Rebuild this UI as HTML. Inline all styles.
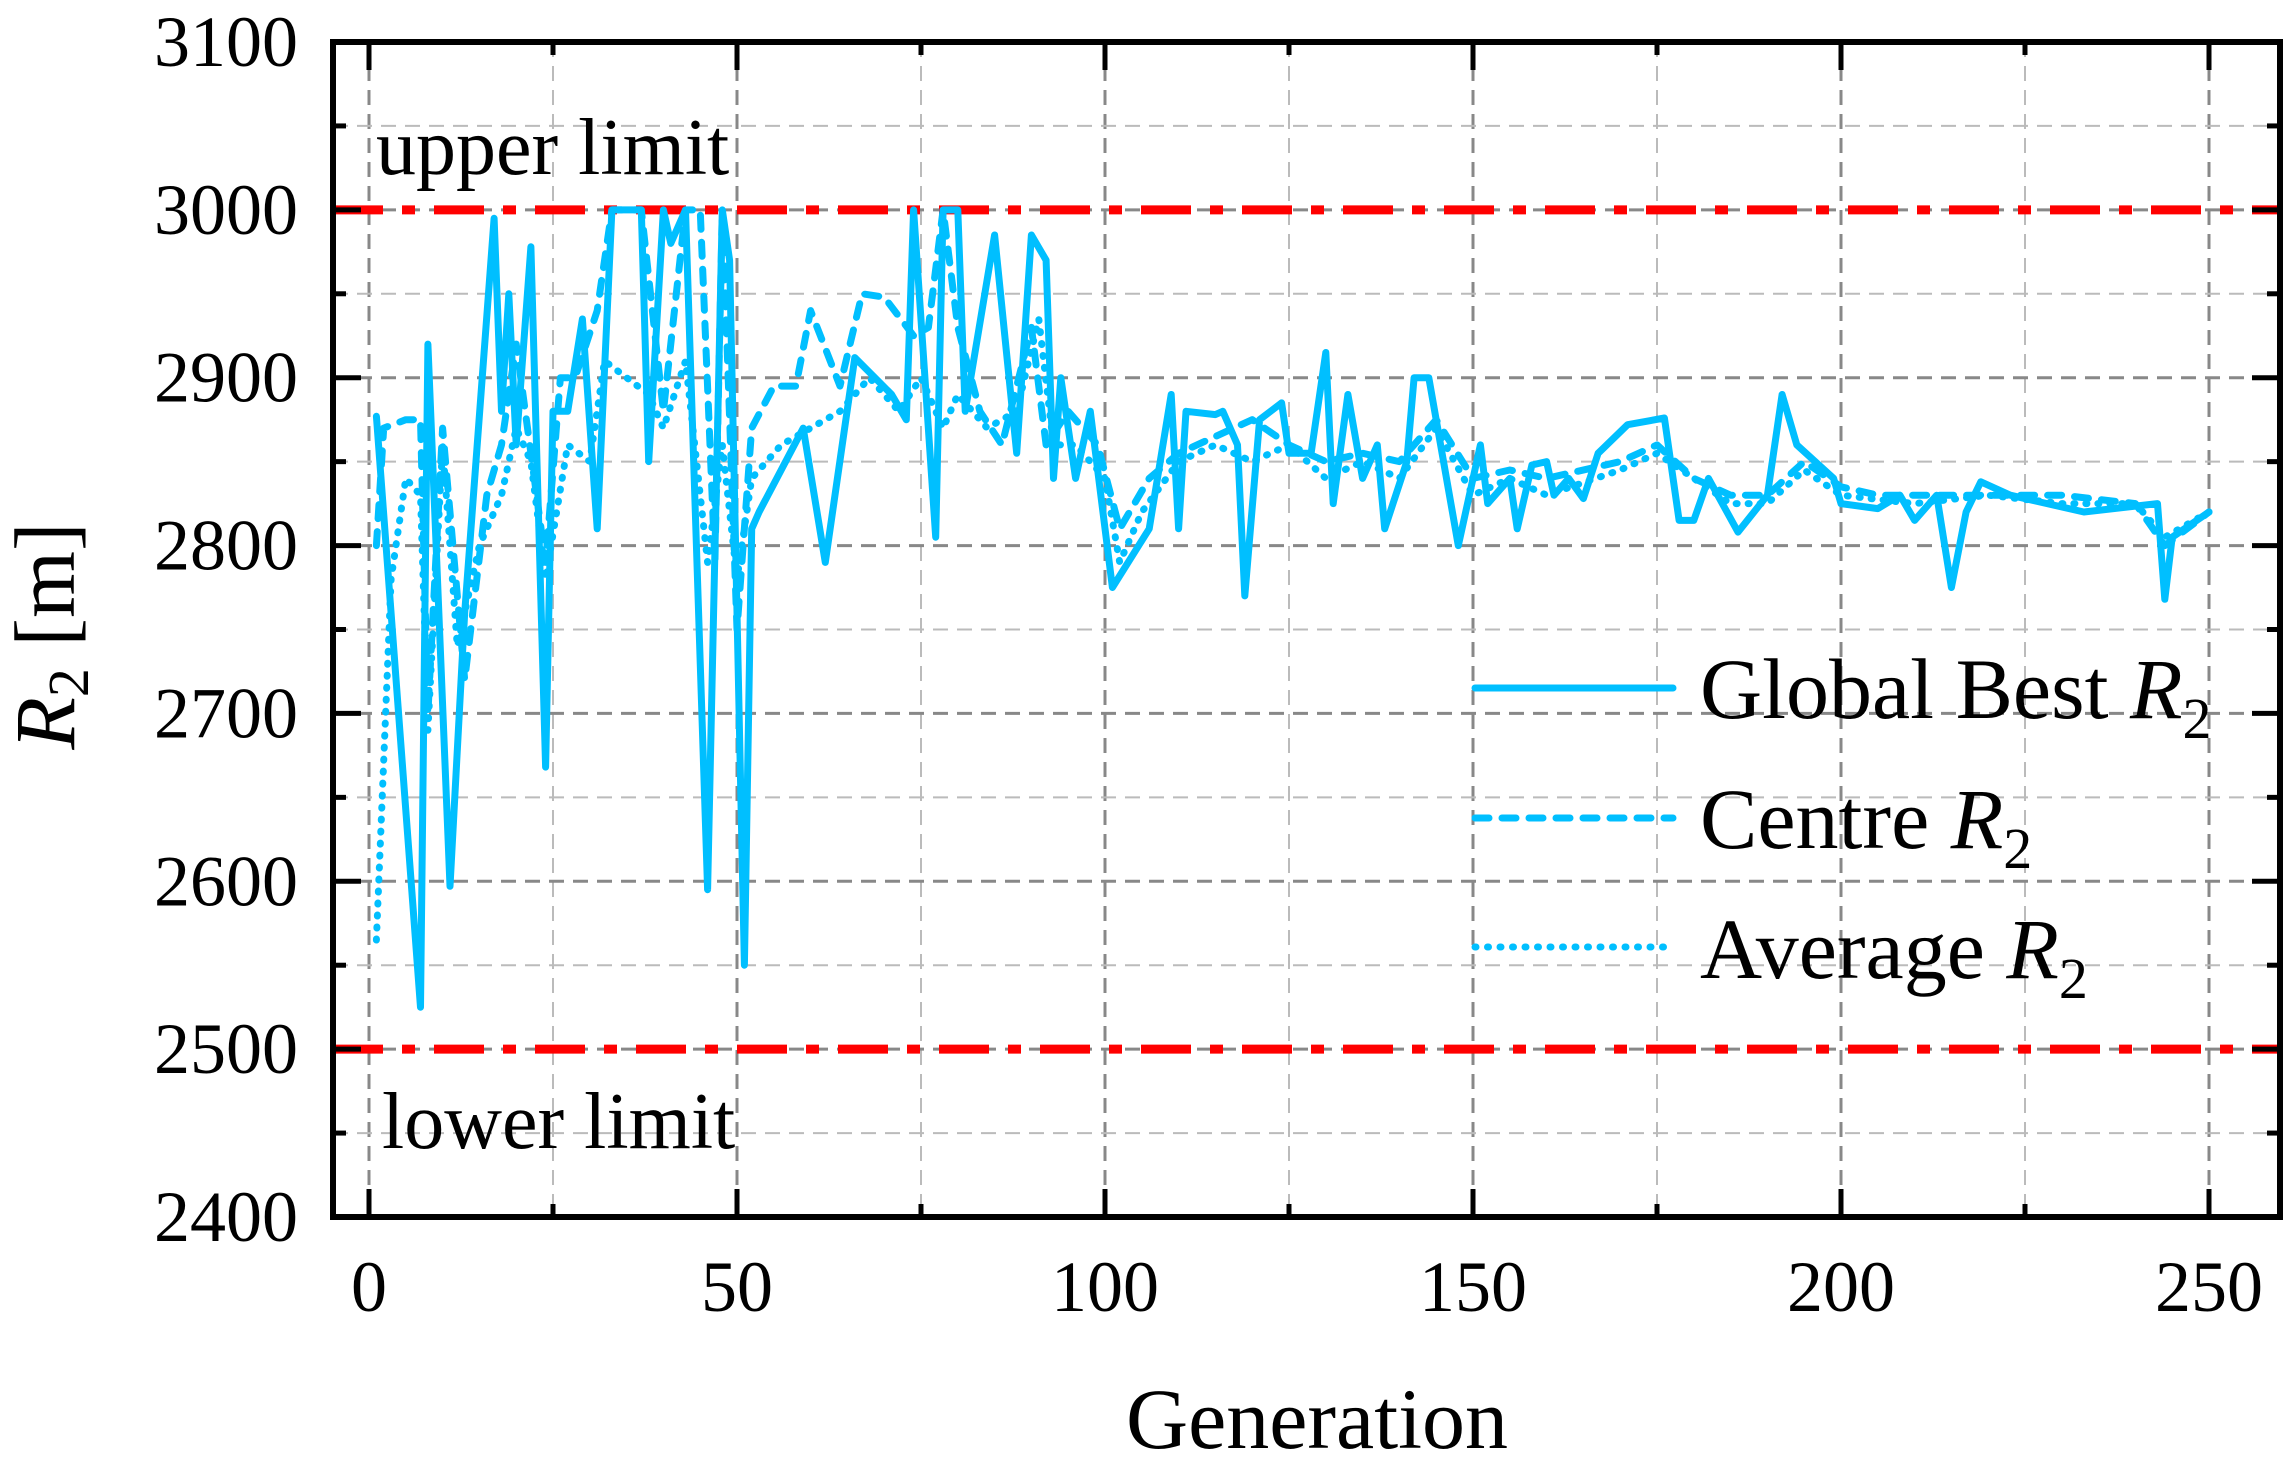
<!DOCTYPE html>
<html><head><meta charset="utf-8"><style>
html,body{margin:0;padding:0;background:#fff;}
svg{display:block;font-family:"Liberation Serif",serif;}
</style></head><body>
<svg id="chart" width="2288" height="1463" viewBox="0 0 2288 1463" xmlns="http://www.w3.org/2000/svg">
<g id="grid"></g>
<g id="limits"></g>
<g id="series"></g>
<g id="axes"></g>
<text x="376" y="174" font-size="80">upper limit</text>
<text x="382" y="1148" font-size="80">lower limit</text>
<text x="1317" y="1448" font-size="86" text-anchor="middle">Generation</text>
<text transform="translate(74,636) rotate(-90)" font-size="86" text-anchor="middle"><tspan font-style="italic">R</tspan><tspan font-size="58" dy="14">2</tspan><tspan dy="-14"> [m]</tspan></text>
<g>
<line x1="1475" y1="688" x2="1673" y2="688" stroke="#00BFFF" stroke-width="7" stroke-linecap="round"/>
<line x1="1475" y1="818" x2="1673" y2="818" stroke="#00BFFF" stroke-width="7" stroke-dasharray="14 13" stroke-linecap="round"/>
<line x1="1475" y1="947" x2="1673" y2="947" stroke="#00BFFF" stroke-width="7" stroke-dasharray="1 11.5" stroke-linecap="round"/>
<text x="1700" y="718" font-size="86">Global Best <tspan font-style="italic">R</tspan><tspan font-size="58" dy="20">2</tspan></text>
<text x="1700" y="848" font-size="86">Centre <tspan font-style="italic">R</tspan><tspan font-size="58" dy="20">2</tspan></text>
<text x="1700" y="978" font-size="86">Average <tspan font-style="italic">R</tspan><tspan font-size="58" dy="20">2</tspan></text>
</g>
</svg>
<script>
const xTicks=[0,50,100,150,200,250];
const yTicks=[2400,2500,2600,2700,2800,2900,3000,3100];
const limits=[3000,2500];
const bestGen=[1,7,8,11,13,17,18,19,20,22,24,25,27,29,31,33,37,38,40,41,43,46,48,49,51,52,53,59,62,66,71,73,74,77,78,80,81,85,88,90,92,93,94,96,98,101,106,109,110,111,115,116,118,119,121,124,125,128,130,131,133,135,137,138,141,142,144,148,151,152,155,156,158,160,161,163,165,167,171,176,178,180,182,186,190,192,194,199,200,205,208,210,213,215,217,219,223,228,233,243,244,245,250];
const bestVal=[2877,2525,2920,2597,2760,2995,2880,2950,2860,2978,2668,2880,2880,2935,2810,3000,3000,2850,3000,2980,3000,2595,3000,2970,2550,2810,2820,2870,2790,2912,2890,2875,3000,2805,3000,3000,2880,2985,2855,2985,2970,2840,2900,2840,2880,2775,2810,2890,2810,2880,2878,2880,2860,2770,2875,2885,2855,2855,2915,2825,2890,2840,2860,2810,2850,2900,2900,2800,2860,2825,2840,2810,2848,2850,2830,2840,2828,2855,2872,2876,2815,2815,2840,2808,2830,2890,2860,2840,2825,2822,2830,2815,2830,2775,2820,2838,2830,2825,2820,2825,2768,2805,2820];
const centreGen=[1,2,5,7,8,10,13,16,18,20,24,26,28,31,33,37,40,43,45,47,48,50,52,55,58,60,64,67,70,74,76,78,80,83,86,90,92,95,99,102,106,110,115,120,125,130,135,140,145,150,155,160,170,175,180,185,190,195,200,205,210,220,230,240,244,250];
const centreVal=[2800,2870,2875,2875,2700,2870,2720,2830,2860,2920,2790,2900,2900,2940,3000,3000,2880,3000,3000,2790,3000,2750,2870,2895,2895,2940,2895,2950,2948,2925,2930,3000,2930,2880,2860,2930,2860,2880,2860,2810,2840,2855,2865,2875,2860,2850,2855,2850,2875,2840,2845,2840,2850,2860,2840,2830,2830,2850,2835,2830,2830,2830,2830,2825,2800,2820];
const avgGen=[1,3,5,7,8,10,12,15,18,20,22,24,27,30,32,35,38,40,43,46,48,50,52,56,60,64,68,72,75,78,80,84,88,91,93,96,100,102,105,110,115,120,125,130,135,140,145,150,155,160,170,175,180,185,190,195,200,210,220,230,240,244,250];
const avgVal=[2565,2780,2840,2830,2690,2860,2740,2800,2830,2870,2850,2780,2860,2850,2910,2900,2890,2870,2910,2790,2860,2780,2840,2860,2870,2880,2900,2880,2900,2870,2890,2870,2880,2935,2860,2860,2840,2790,2820,2850,2860,2850,2860,2840,2850,2840,2870,2830,2840,2830,2845,2855,2840,2825,2825,2845,2830,2825,2830,2825,2825,2805,2820];

const L=333,R=2280,T=42,B=1217;
const xs=v=>369+v*7.36;
const ys=v=>B-(v-2400)*(B-T)/700;
const NS='http://www.w3.org/2000/svg';
function mk(tag,attrs,parent){const e=document.createElementNS(NS,tag);for(const k in attrs)e.setAttribute(k,attrs[k]);parent.appendChild(e);return e;}
const grid=document.getElementById('grid');
for(let g=0;g<=250;g+=25){
  const major=g%50===0;
  const l=mk('line',{x1:xs(g),x2:xs(g),y1:T,y2:B,stroke:major?'#888':'#bbb','stroke-width':major?3:2,'stroke-dasharray':'15 9'},grid);
  
  
}
for(let v=2450;v<3100;v+=50){
  const major=v%100===0;
  const l=mk('line',{x1:L,x2:R,y1:ys(v),y2:ys(v),stroke:major?'#888':'#bbb','stroke-width':major?3:2,'stroke-dasharray':'15 9'},grid);
  
  
}
const lim=document.getElementById('limits');
limits.forEach(v=>{
  const l=mk('line',{x1:L,x2:R,y1:ys(v),y2:ys(v),stroke:'#ff0000','stroke-width':9,'stroke-dasharray':'50 19 13 19'},lim);
  
  
});
const ser=document.getElementById('series');
function path(gs,vs,dash,name){
  const d=gs.map((g,i)=>(i?'L':'M')+xs(g).toFixed(1)+','+ys(vs[i]).toFixed(1)).join(' ');
  const p=mk('path',{d:d,fill:'none',stroke:'#00BFFF','stroke-width':7,'stroke-linejoin':'round','stroke-linecap':'round'},ser);
  if(dash)p.setAttribute('stroke-dasharray',dash);
  
  
}
path(avgGen,avgVal,'1 11','average-r2-line');
path(centreGen,centreVal,'14 13','centre-r2-line');
path(bestGen,bestVal,null,'global-best-r2-line');
const ax=document.getElementById('axes');
const frame=mk('rect',{x:L,y:T,width:R-L,height:B-T,fill:'none',stroke:'#000','stroke-width':6},ax);


for(let g=0;g<=250;g+=25){
  const len=g%50===0?28:13;
  const t1=mk('line',{x1:xs(g),x2:xs(g),y1:B,y2:B-len,stroke:'#000','stroke-width':5},ax);
  
  
  const t2=mk('line',{x1:xs(g),x2:xs(g),y1:T,y2:T+len,stroke:'#000','stroke-width':5},ax);
  
  
}
for(let v=2450;v<3100;v+=50){
  const len=v%100===0?28:13;
  const t1=mk('line',{x1:L,x2:L+len,y1:ys(v),y2:ys(v),stroke:'#000','stroke-width':5},ax);
  
  
  const t2=mk('line',{x1:R,x2:R-len,y1:ys(v),y2:ys(v),stroke:'#000','stroke-width':5},ax);
  
  
}
xTicks.forEach(g=>{
  const t=mk('text',{x:xs(g),y:1311,'font-size':72,'text-anchor':'middle'},ax);
  t.textContent=g;
  
  
});
yTicks.forEach(v=>{
  const t=mk('text',{x:298,y:ys(v)+24,'font-size':72,'text-anchor':'end'},ax);
  t.textContent=v;
  
  
});
</script>
</body></html>
